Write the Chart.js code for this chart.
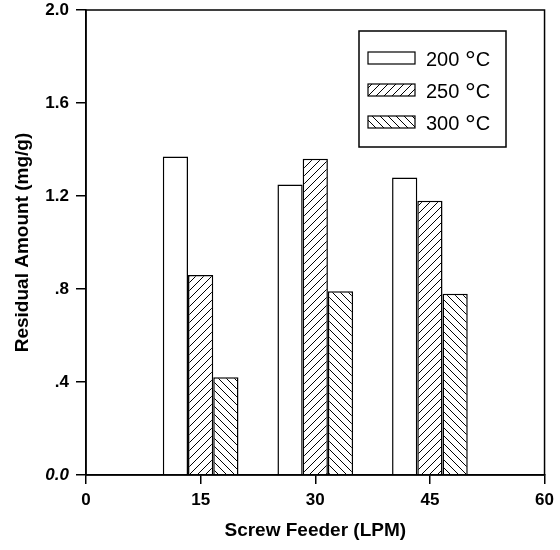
<!DOCTYPE html>
<html>
<head>
<meta charset="utf-8">
<script src="https://cdn.jsdelivr.net/npm/chart.js@4"></script>
<style>
    body { margin: 0; background: #fff; }
    #wrap { width: 560px; height: 550px; }
</style>
</head>
<body>
<div id="wrap"><canvas id="residualChart"></canvas></div>
<script>
// Residual amount vs screw feeder rate, three temperatures
const feedRates = [15, 30, 45];
const seriesLabels = ['200 °C', '250 °C', '300 °C'];
const residual200 = [1.37, 1.25, 1.28];
const residual250 = [0.86, 1.36, 1.18];
const residual300 = [0.42, 0.79, 0.78];
const xTickValues = [0, 15, 30, 45, 60];
const yTickLabels = ['0.0', '.4', '.8', '1.2', '1.6', '2.0'];

const FONT = '"Liberation Sans", Arial, sans-serif';

function makeHatch(dir) {
    const s = 8;
    const c = document.createElement('canvas');
    c.width = s;
    c.height = s;
    const g = c.getContext('2d');
    g.fillStyle = '#fff';
    g.fillRect(0, 0, s, s);
    g.strokeStyle = '#000';
    g.lineWidth = 1;
    g.beginPath();
    if (dir === '/') {
        g.moveTo(0, s); g.lineTo(s, 0);
        g.moveTo(-1, 1); g.lineTo(1, -1);
        g.moveTo(s - 1, s + 1); g.lineTo(s + 1, s - 1);
    } else {
        g.moveTo(0, 0); g.lineTo(s, s);
        g.moveTo(s - 1, -1); g.lineTo(s + 1, 1);
        g.moveTo(-1, s - 1); g.lineTo(1, s + 1);
    }
    g.stroke();
    return g.createPattern(c, 'repeat');
}

const fills = ['#ffffff', makeHatch('/'), makeHatch('\\')];

function toPoints(values) {
    return feedRates.map((x, i) => ({ x: x, y: values[i] }));
}

// box around the plot area
const frameBox = {
    id: 'frameBox',
    afterDatasetsDraw(chart) {
        const a = chart.chartArea;
        const ctx = chart.ctx;
        ctx.save();
        ctx.strokeStyle = '#000';
        ctx.lineWidth = 1.5;
        ctx.strokeRect(a.left, a.top, a.right - a.left, a.bottom - a.top);
        ctx.restore();
    }
};

// legend drawn inside the plot, upper right
const insideLegend = {
    id: 'insideLegend',
    afterDraw(chart) {
        const a = chart.chartArea;
        const ctx = chart.ctx;
        const bx = a.left + 273, by = a.top + 21, bw = 147, bh = 116;
        ctx.save();
        ctx.fillStyle = '#fff';
        ctx.fillRect(bx, by, bw, bh);
        ctx.strokeStyle = '#000';
        ctx.lineWidth = 1.5;
        ctx.strokeRect(bx, by, bw, bh);
        chart.data.datasets.forEach((ds, i) => {
            const cy = by + 27 + i * 32;
            ctx.fillStyle = ds.backgroundColor;
            ctx.fillRect(bx + 9, cy - 6, 47, 12);
            ctx.lineWidth = 1.2;
            ctx.strokeRect(bx + 9, cy - 6, 47, 12);
            const parts = ds.label.split('°');
            ctx.fillStyle = '#000';
            ctx.textBaseline = 'alphabetic';
            ctx.font = '20px ' + FONT;
            let tx = bx + 67;
            ctx.fillText(parts[0], tx, cy + 8);
            tx += ctx.measureText(parts[0]).width;
            ctx.font = '27px ' + FONT;
            ctx.fillText('°', tx, cy + 12);
            tx += ctx.measureText('°').width;
            ctx.font = '20px ' + FONT;
            ctx.fillText(parts[1], tx, cy + 8);
        });
        ctx.restore();
    }
};

const datasets = [residual200, residual250, residual300].map((vals, i) => ({
    label: seriesLabels[i],
    data: toPoints(vals),
    backgroundColor: fills[i],
    borderColor: '#000',
    borderWidth: 1.5,
    categoryPercentage: 0.66,
    barPercentage: 1.0
}));

new Chart(document.getElementById('residualChart'), {
    type: 'bar',
    data: { datasets: datasets },
    plugins: [frameBox, insideLegend],
    options: {
        responsive: true,
        maintainAspectRatio: false,
        animation: false,
        layout: { padding: { top: 0, right: 13, left: 0, bottom: 0 } },
        plugins: {
            legend: { display: false },
            tooltip: { enabled: false }
        },
        scales: {
            x: {
                type: 'linear',
                min: 0,
                max: 60,
                offset: false,
                afterFit: (s) => { s.height = 75; },
                afterBuildTicks: (s) => { s.ticks = xTickValues.map(v => ({ value: v })); },
                grid: { display: true, drawOnChartArea: false, offset: false, tickLength: 9, color: '#000', lineWidth: 1.5 },
                border: { display: true, color: '#000', width: 1.5 },
                ticks: {
                    color: '#000',
                    padding: 6,
                    font: { family: FONT, size: 17, weight: 'bold' }
                },
                title: {
                    display: true,
                    text: 'Screw Feeder (LPM)',
                    color: '#000',
                    font: { family: FONT, size: 19, weight: 'bold' },
                    padding: { top: 0, bottom: 8 }
                }
            },
            y: {
                min: 0,
                max: 2.0,
                afterFit: (s) => { s.width = 86; s.paddingTop = 10; },
                grid: { display: true, drawOnChartArea: false, tickLength: 10, color: '#000', lineWidth: 1.5 },
                border: { display: true, color: '#000', width: 1.5 },
                ticks: {
                    stepSize: 0.4,
                    color: '#000',
                    padding: 7,
                    callback: (v, i) => yTickLabels[i],
                    font: (ctx) => ({
                        family: FONT,
                        size: 17,
                        weight: 'bold',
                        style: ctx.tick && ctx.tick.value === 0 ? 'italic' : 'normal'
                    })
                },
                title: {
                    display: true,
                    text: 'Residual Amount (mg/g)',
                    color: '#000',
                    font: { family: FONT, size: 19, weight: 'bold' },
                    padding: { top: 11, bottom: 0 }
                }
            }
        }
    }
});
</script>
</body>
</html>
